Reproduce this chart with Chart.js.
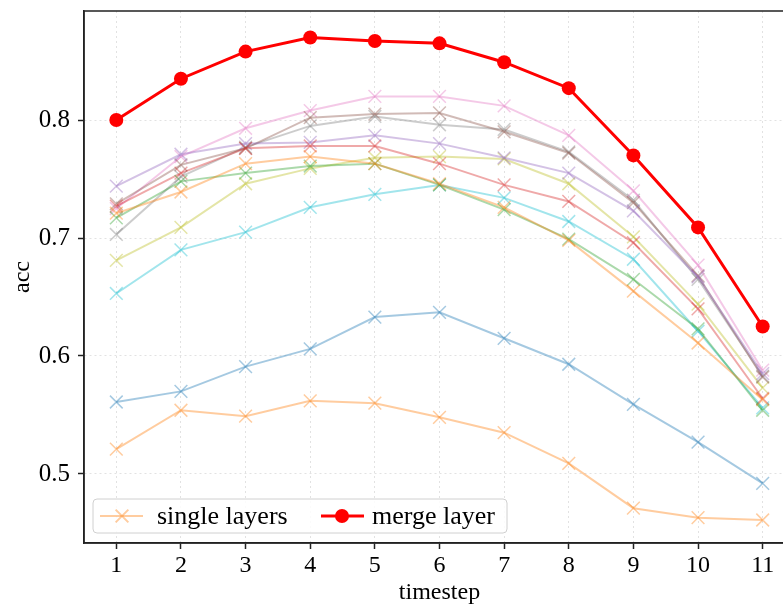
<!DOCTYPE html>
<html>
<head>
<meta charset="utf-8">
<title>acc per timestep</title>
<script src="https://cdn.jsdelivr.net/npm/chart.js"></script>
<style>
    html, body { margin: 0; padding: 0; background: #fff; overflow: hidden; }
    #wrap { width: 810px; height: 607px; }
</style>
</head>
<body>
<div id="wrap"><canvas id="acc-chart"></canvas></div>
<script>
// data
const timesteps = [1, 2, 3, 4, 5, 6, 7, 8, 9, 10, 11];
const yTicks = [0.5, 0.6, 0.7, 0.8];

const mergeLayer = [0.800, 0.835, 0.858, 0.870, 0.867, 0.865, 0.849, 0.827, 0.770, 0.709, 0.625];

// single layers, one array per line (named by the colour it is drawn in)
const layerBlue   = [0.561, 0.570, 0.591, 0.606, 0.633, 0.637, 0.615, 0.593, 0.559, 0.527, 0.492];
const layerOrange = [0.721, 0.739, 0.763, 0.769, 0.763, 0.746, 0.726, 0.698, 0.655, 0.611, 0.563];
const layerGreen  = [0.717, 0.748, 0.755, 0.761, 0.763, 0.745, 0.724, 0.699, 0.665, 0.623, 0.554];
const layerRed    = [0.727, 0.755, 0.776, 0.778, 0.778, 0.763, 0.745, 0.731, 0.696, 0.640, 0.564];
const layerPurple = [0.744, 0.771, 0.780, 0.781, 0.787, 0.780, 0.768, 0.755, 0.723, 0.667, 0.585];
const layerBrown  = [0.729, 0.762, 0.776, 0.802, 0.805, 0.806, 0.790, 0.772, 0.730, 0.668, 0.582];
const layerPink   = [0.725, 0.769, 0.793, 0.808, 0.820, 0.820, 0.812, 0.787, 0.740, 0.677, 0.588];
const layerGray   = [0.703, 0.752, 0.777, 0.795, 0.803, 0.796, 0.792, 0.773, 0.732, 0.665, 0.583];
const layerOlive  = [0.681, 0.709, 0.746, 0.759, 0.768, 0.769, 0.767, 0.746, 0.701, 0.644, 0.573];
const layerCyan   = [0.653, 0.690, 0.705, 0.726, 0.737, 0.745, 0.734, 0.714, 0.682, 0.621, 0.556];
const layerOrangeLow = [0.521, 0.554, 0.549, 0.562, 0.560, 0.548, 0.535, 0.509, 0.471, 0.463, 0.461];

const singleLayers = [layerBlue, layerOrange, layerGreen, layerRed, layerPurple, layerBrown,
    layerPink, layerGray, layerOlive, layerCyan, layerOrangeLow];

// matplotlib tab10 colours, same order as singleLayers
const layerColors = ['31,119,180', '255,127,14', '44,160,44', '214,39,40', '148,103,189', '140,86,75',
    '227,119,194', '127,127,127', '188,189,34', '23,190,207', '255,127,14'];

const FONT = "'Liberation Serif', 'Times New Roman', serif";
const LAYER_ALPHA = 0.4;

const toPoints = vals => vals.map((v, i) => ({ x: timesteps[i], y: v }));

const datasets = [{
    label: 'merge layer',
    data: toPoints(mergeLayer),
    borderColor: '#ff0000',
    backgroundColor: '#ff0000',
    borderWidth: 3,
    pointStyle: 'circle',
    pointRadius: 7,
    pointBorderWidth: 0,
    pointBackgroundColor: '#ff0000',
}];

singleLayers.forEach((vals, i) => {
    const c = `rgba(${layerColors[i]}, ${LAYER_ALPHA})`;
    datasets.push({
        label: 'single layers',
        data: toPoints(vals),
        borderColor: c,
        borderWidth: 2,
        pointStyle: 'crossRot',
        pointRadius: 9,
        pointBorderWidth: 1.5,
        pointBorderColor: c,
        pointBackgroundColor: 'transparent',
    });
});

// full box around the plot area (matplotlib spines)
const framePlugin = {
    id: 'frame',
    afterDatasetsDraw(chart) {
        const { ctx, chartArea: a } = chart;
        ctx.save();
        ctx.strokeStyle = '#222';
        ctx.lineWidth = 1.5;
        ctx.strokeRect(a.left, a.top, a.right - a.left, a.bottom - a.top);
        ctx.restore();
    }
};

// legend drawn inside the axes, lower left
const innerLegend = {
    id: 'innerLegend',
    afterDraw(chart) {
        const { ctx, chartArea: a } = chart;
        const H = Chart.helpers;
        const x0 = a.left + 9, y0 = a.bottom - 44, w = 414, h = 34;
        const cy = y0 + h / 2;

        ctx.save();
        ctx.fillStyle = 'rgba(255,255,255,0.85)';
        ctx.strokeStyle = '#d0d0d0';
        ctx.lineWidth = 1;
        ctx.beginPath();
        ctx.roundRect(x0, y0, w, h, 4);
        ctx.fill();
        ctx.stroke();

        // single layers handle
        const sc = `rgba(${layerColors[1]}, ${LAYER_ALPHA})`;
        ctx.strokeStyle = sc;
        ctx.lineWidth = 2;
        ctx.beginPath();
        ctx.moveTo(x0 + 7, cy);
        ctx.lineTo(x0 + 50, cy);
        ctx.stroke();
        ctx.fillStyle = 'transparent';
        H.drawPoint(ctx, { pointStyle: 'crossRot', radius: 9, borderWidth: 1.5 }, x0 + 29, cy);

        // merge layer handle
        ctx.strokeStyle = '#ff0000';
        ctx.lineWidth = 3;
        ctx.beginPath();
        ctx.moveTo(x0 + 228, cy);
        ctx.lineTo(x0 + 271, cy);
        ctx.stroke();
        ctx.fillStyle = '#ff0000';
        ctx.beginPath();
        ctx.arc(x0 + 249, cy, 7, 0, Math.PI * 2);
        ctx.fill();

        ctx.fillStyle = '#000';
        ctx.font = `26px ${FONT}`;
        ctx.textBaseline = 'middle';
        ctx.fillText('single layers', x0 + 64, cy + 1);
        ctx.fillText('merge layer', x0 + 279, cy + 1);
        ctx.restore();
    }
};

const axisFont = { family: FONT, size: 24 };

new Chart(document.getElementById('acc-chart'), {
    type: 'line',
    data: { datasets },
    plugins: [framePlugin, innerLegend],
    options: {
        responsive: true,
        maintainAspectRatio: false,
        animation: false,
        layout: { padding: { top: 11, right: 15, left: 0, bottom: 0 } },
        plugins: {
            legend: { display: false },
            tooltip: { enabled: false }
        },
        elements: { line: { tension: 0 } },
        scales: {
            x: {
                type: 'linear',
                min: 0.5,
                max: 11.5,
                afterBuildTicks: s => { s.ticks = timesteps.map(v => ({ value: v })); },
                afterFit: s => { s.height = 64; s.paddingLeft = 0; s.paddingRight = 0; },
                ticks: { color: '#000', font: axisFont, padding: 2, maxRotation: 0, callback: v => String(v) },
                grid: { color: '#e2e2e2', lineWidth: 1, tickColor: '#222', tickLength: 6, tickWidth: 1.5 },
                border: { color: '#222', width: 1.5, dash: [2, 3] },
                title: { display: true, text: 'timestep', color: '#000', font: axisFont, padding: 0 }
            },
            y: {
                type: 'linear',
                min: 0.4415,
                max: 0.8924,
                afterBuildTicks: s => { s.ticks = yTicks.map(v => ({ value: v })); },
                afterFit: s => { s.width = 84; s.paddingTop = 0; s.paddingBottom = 0; },
                ticks: { color: '#000', font: { family: FONT, size: 25 }, padding: 8, callback: v => v.toFixed(1) },
                grid: { color: '#e2e2e2', lineWidth: 1, tickColor: '#222', tickLength: 6, tickWidth: 1.5 },
                border: { color: '#222', width: 1.5, dash: [2, 3] },
                title: { display: true, text: 'acc', color: '#000', font: axisFont, padding: { top: 8, bottom: 0 } }
            }
        }
    }
});
</script>
</body>
</html>
